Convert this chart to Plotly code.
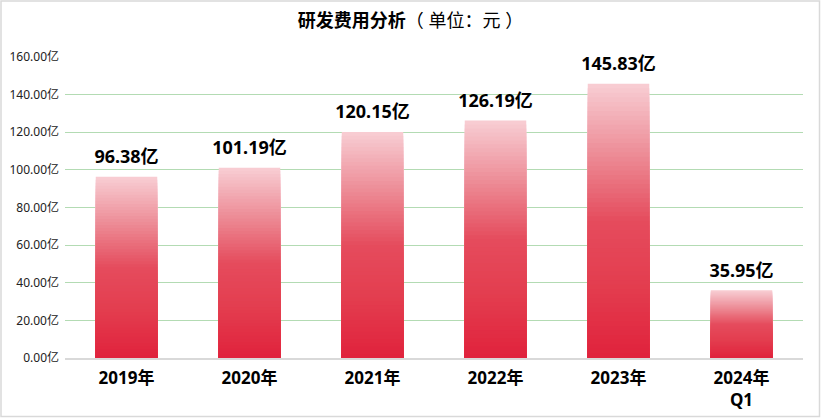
import plotly.graph_objects as go

# 研发费用（亿元）
categories = ["2019年", "2020年", "2021年", "2022年", "2023年", "2024年<br>Q1"]
values = [96.38, 101.19, 120.15, 126.19, 145.83, 35.95]
labels = ["96.38亿", "101.19亿", "120.15亿", "126.19亿", "145.83亿", "35.95亿"]

W, H = 821, 418
ML, MR, MT, MB = 65, 18, 57, 60
FONT = "Noto Sans, Noto Sans CJK SC"

# gradient stops: position from top of bar (0) to bottom (1)
stops = [(0.0, (248, 206, 212)), (0.25, (237, 142, 152)), (0.5, (229, 76, 93)),
         (0.75, (227, 60, 78)), (1.0, (224, 34, 60))]


def grad(f):
    for (p0, c0), (p1, c1) in zip(stops, stops[1:]):
        if f <= p1:
            t = (f - p0) / (p1 - p0)
            c = [round(a + (b - a) * t) for a, b in zip(c0, c1)]
            return "rgb(%d,%d,%d)" % tuple(c)
    return "rgb(%d,%d,%d)" % stops[-1][1]


fig = go.Figure()
N = 60
for k in range(N):
    share = 1 - k / N
    fig.add_trace(go.Bar(
        x=categories,
        y=[v * share for v in values],
        width=0.5,
        marker=dict(color=grad((k + 0.5) / N), line=dict(width=0)),
        hoverinfo="skip" if k else "x+y",
        showlegend=False,
    ))

# value labels above bars
fig.add_trace(go.Scatter(
    x=categories, y=values, text=labels,
    mode="markers+text", textposition="top center",
    marker=dict(size=13, color="rgba(0,0,0,0)"),
    textfont=dict(size=18, color="black", family=FONT, weight="bold"),
    cliponaxis=False, hoverinfo="skip", showlegend=False,
))

pw, ph = W - ML - MR, H - MT - MB
fig.add_shape(type="rect", xref="paper", yref="paper",
              x0=(-ML + 1) / pw, x1=1 + (MR - 1.5) / pw,
              y0=(-MB + 1.5) / ph, y1=1 + (MT - 1) / ph,
              line=dict(color="#d9d9d9", width=1.5), layer="below")

fig.update_layout(
    width=W, height=H,
    margin=dict(l=ML, r=MR, t=MT, b=MB, autoexpand=False),
    barmode="overlay",
    plot_bgcolor="white",
    paper_bgcolor="white",
    font=dict(family=FONT, color="#333"),
    title=dict(text="<b>研发费用分析</b>（ 单位：元 ）", x=0.5, xref="container",
               y=1 - 21 / H, yanchor="middle",
               font=dict(size=18, color="black", family=FONT)),
    xaxis=dict(showline=True, linecolor="#d9d9d9", linewidth=1.5, ticks="",
               tickfont=dict(size=17, color="black", weight="bold"),
               ticklabelstandoff=4, automargin=False),
    yaxis=dict(range=[0, 160], dtick=20, tickformat=".2f", ticksuffix="亿",
               showgrid=True, gridcolor="#b3dbb3", gridwidth=1, zeroline=False,
               tickfont=dict(size=12, color="#222"), ticklabelstandoff=5,
               automargin=False),
)

fig.write_html("out.html", config={"displayModeBar": False},
               post_script="document.body.style.margin='0';")
